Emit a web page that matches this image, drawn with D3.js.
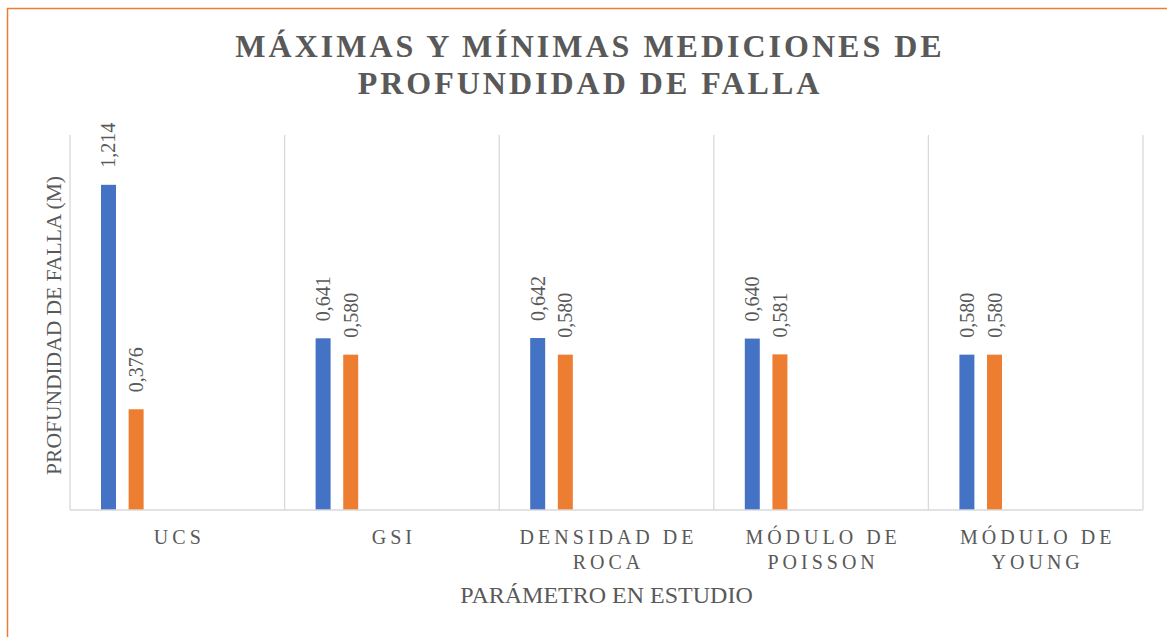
<!DOCTYPE html>
<html>
<head>
<meta charset="utf-8">
<script src="https://cdn.jsdelivr.net/npm/d3@7"></script>
<style>
  html, body { margin: 0; padding: 0; background: #fff; }
  svg { display: block; }
  svg text { font-family: "Liberation Serif", "Times New Roman", "DejaVu Serif", serif; fill: #595959; }
</style>
</head>
<body>
<svg id="chart" width="1167" height="637"></svg>
<script>
// Parameters studied and the max / min failure depth for each
const categories = ["UCS", "GSI", "DENSIDAD DE ROCA", "MÓDULO DE POISSON", "MÓDULO DE YOUNG"];
const categoryLines = [["UCS"], ["GSI"], ["DENSIDAD DE", "ROCA"], ["MÓDULO DE", "POISSON"], ["MÓDULO DE", "YOUNG"]];
const seriesNames = ["Máxima", "Mínima"];
const maxValues = [1.214, 0.641, 0.642, 0.640, 0.580];
const minValues = [0.376, 0.580, 0.580, 0.581, 0.580];
const seriesColors = ["#4472C4", "#ED7D31"];

const SERIF = '"Liberation Serif", "Times New Roman", "DejaVu Serif", serif';
const svg = d3.select("#chart");
const W = 1167, H = 637;

// outer chart frame (extends past the right and bottom edges)
svg.append("rect")
  .attr("x", 7.5).attr("y", 8.5)
  .attr("width", W + 10).attr("height", H + 10)
  .attr("fill", "#fff")
  .attr("stroke", "#ED7D31").attr("stroke-width", 1.5);

const plot = { left: 70, right: 1143, top: 135, bottom: 510 };

const x0 = d3.scaleBand().domain(categories).range([plot.left, plot.right]).padding(0);
const bw = x0.bandwidth();
const x1 = d3.scaleBand().domain(seriesNames)
  .range([0.1445 * bw, 0.343 * bw]).paddingInner(0.458).paddingOuter(0);
const y = d3.scaleLinear().domain([0, 1.4]).range([plot.bottom, plot.top]);

// vertical separators between categories
const edges = categories.map(c => x0(c)).concat([plot.right]);
svg.append("g").selectAll("line").data(edges).join("line")
  .attr("x1", d => d).attr("x2", d => d)
  .attr("y1", plot.top).attr("y2", plot.bottom)
  .attr("stroke", "#D9D9D9").attr("stroke-width", 1.3);

// bars
const rows = categories.map((c, i) => ({ cat: c, values: [maxValues[i], minValues[i]] }));
const groups = svg.append("g").selectAll("g").data(rows).join("g")
  .attr("transform", d => `translate(${x0(d.cat)},0)`);

groups.selectAll("rect")
  .data(d => d.values.map((v, j) => ({ v, s: seriesNames[j], j })))
  .join("rect")
  .attr("x", d => x1(d.s))
  .attr("width", x1.bandwidth())
  .attr("y", d => y(d.v))
  .attr("height", d => y(0) - y(d.v))
  .attr("fill", d => seriesColors[d.j]);

// rotated value labels
const fmt = v => d3.format(".3f")(v).replace(".", ",");
groups.selectAll("text.val")
  .data(d => d.values.map((v, j) => ({ v, s: seriesNames[j] })))
  .join("text")
  .attr("class", "val")
  .attr("transform", d => `translate(${x1(d.s) + x1.bandwidth() / 2 + 7},${y(d.v) - 17}) rotate(-90)`)
  .attr("font-family", SERIF)
  .attr("font-size", 20)
  .text(d => fmt(d.v));

// x axis (baseline + category labels)
const xAxis = d3.axisBottom(x0).tickSize(0).tickPadding(0);
const gx = svg.append("g").attr("transform", `translate(0,${plot.bottom})`).call(xAxis)
  .attr("font-family", SERIF);
gx.select(".domain").attr("stroke", "#D9D9D9").attr("stroke-width", 1.5)
  .attr("d", `M${plot.left},0H${plot.right}`);
gx.selectAll(".tick text").each(function (d, i) {
  const t = d3.select(this);
  t.text(null)
    .attr("fill", "#595959")
    .attr("font-family", SERIF)
    .attr("font-size", 20)
    .attr("letter-spacing", 4)
    .attr("y", 0).attr("dy", null);
  categoryLines[i].forEach((ln, k) => {
    t.append("tspan").attr("x", 2).attr("y", 34 + k * 25).text(ln);
  });
});

// axis titles
svg.append("text")
  .attr("x", (plot.left + plot.right) / 2).attr("y", 603)
  .attr("text-anchor", "middle")
  .attr("font-family", SERIF).attr("font-size", 24)
  .text("PARÁMETRO EN ESTUDIO");

svg.append("text")
  .attr("transform", `translate(61,${(plot.top + plot.bottom) / 2 + 3}) rotate(-90)`)
  .attr("text-anchor", "middle")
  .attr("font-family", SERIF).attr("font-size", 21.5)
  .text("PROFUNDIDAD DE FALLA (M)");

// chart title
const title = svg.append("text")
  .attr("text-anchor", "middle")
  .attr("font-family", SERIF).attr("font-size", 32)
  .attr("font-weight", "bold").attr("letter-spacing", 3);
title.append("tspan").attr("x", 590).attr("y", 57).text("MÁXIMAS Y MÍNIMAS MEDICIONES DE");
title.append("tspan").attr("x", 590).attr("y", 94).text("PROFUNDIDAD DE FALLA");
</script>
</body>
</html>
